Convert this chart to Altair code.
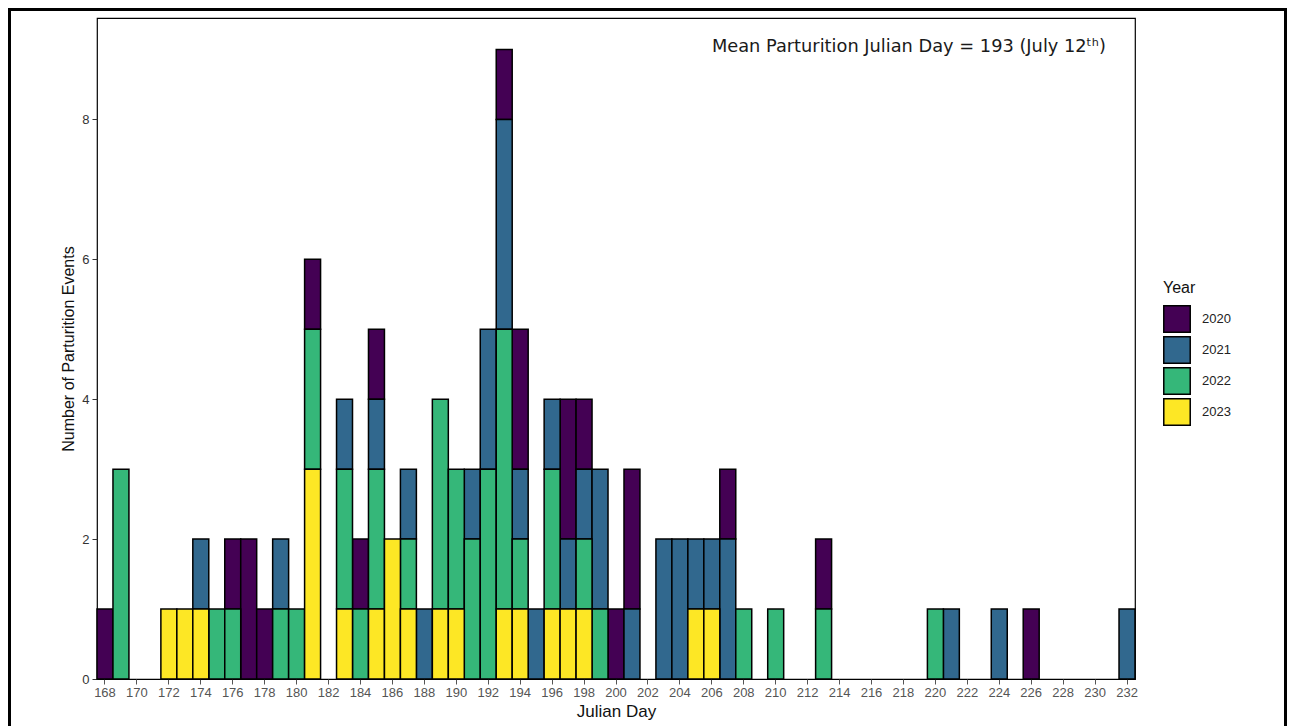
import altair as alt
import pandas as pd

# ---- data ----
days_2020 = [168, 176, 177, 178, 181, 184, 185, 193, 194, 197, 198, 200, 201, 207, 213, 226]
cnt_2020  = [1,   1,   2,   1,   1,   1,   1,   1,   2,   2,   1,   1,   2,   1,   1,   1]

days_2021 = [174, 179, 183, 185, 187, 188, 191, 192, 193, 194, 195, 196, 197, 198, 199, 201, 203, 204, 205, 206, 207, 221, 224, 232]
cnt_2021  = [1,   1,   1,   1,   1,   1,   1,   2,   3,   1,   1,   1,   1,   1,   2,   1,   2,   2,   1,   1,   2,   1,   1,   1]

days_2022 = [169, 175, 176, 179, 180, 181, 183, 184, 185, 187, 189, 190, 191, 192, 193, 194, 196, 198, 199, 208, 210, 213, 220]
cnt_2022  = [3,   1,   1,   1,   1,   2,   2,   1,   2,   1,   3,   2,   2,   3,   4,   1,   2,   1,   1,   1,   1,   1,   1]

days_2023 = [172, 173, 174, 181, 183, 185, 186, 187, 189, 190, 193, 194, 196, 197, 198, 205, 206]
cnt_2023  = [1,   1,   1,   3,   1,   1,   2,   1,   1,   1,   1,   1,   1,   1,   1,   1,   1]

years = ["2020", "2021", "2022", "2023"]
colors = ["#440154", "#31688E", "#35B779", "#FDE725"]
all_days = list(range(168, 233))
tick_days = list(range(168, 233, 2))
y_ticks = [0, 2, 4, 6, 8]
annotation = "Mean Parturition Julian Day = 193 (July 12\u1d57\u02b0)"

rows = []
for yr, ds, cs in zip(years, [days_2020, days_2021, days_2022, days_2023],
                      [cnt_2020, cnt_2021, cnt_2022, cnt_2023]):
    for d, c in zip(ds, cs):
        rows.append({"day": d, "count": c, "year": yr})
df = pd.DataFrame(rows)

bars = alt.Chart(df).mark_bar(stroke="black", strokeWidth=1.5).encode(
    x=alt.X("day:O",
            scale=alt.Scale(domain=all_days, paddingInner=0, paddingOuter=0),
            axis=alt.Axis(values=tick_days, labelAngle=0, title="Julian Day",
                          labelColor="#555555", labelFontSize=13, labelFont="Liberation Sans",
                          tickColor="#555555", tickSize=5, labelPadding=2,
                          titleFontSize=17, titleFont="Liberation Sans", titleFontWeight="normal",
                          titleColor="#111111", titlePadding=4, domain=False)),
    y=alt.Y("count:Q", stack="zero",
            scale=alt.Scale(domain=[0, 9.45], nice=False, zero=True),
            axis=alt.Axis(values=y_ticks, grid=False, title="Number of Parturition Events",
                          labelColor="#333333", labelFontSize=13, labelFont="Liberation Sans",
                          tickColor="#333333", tickSize=5, labelPadding=3,
                          titleFontSize=16, titleFont="Liberation Sans", titleFontWeight="normal",
                          titleColor="#111111", titlePadding=5, domain=False)),
    color=alt.Color("year:N", scale=alt.Scale(domain=years, range=colors),
                    legend=alt.Legend(title="Year", orient="none", legendX=1066, legendY=262,
                                      symbolType="square", symbolSize=700,
                                      symbolStrokeColor="black", symbolStrokeWidth=1.5,
                                      symbolOpacity=1,
                                      labelFontSize=13, labelFont="Liberation Sans",
                                      labelColor="#222222", labelOffset=11,
                                      titleFontSize=16, titleFont="Liberation Sans",
                                      titleFontWeight="normal", titleColor="#111111",
                                      titlePadding=9, rowPadding=-7)),
    order=alt.Order("year:N", sort="descending"),
)

note = alt.Chart(pd.DataFrame({"label": [annotation]})).mark_text(
    align="right", baseline="middle", fontSize=17.8, font="DejaVu Sans", color="#1a1a1a"
).encode(x=alt.value(1009), y=alt.value(29), text="label:N")

frame = alt.Chart(pd.DataFrame({"a": [0]})).mark_rect(
    fillOpacity=0, stroke="black", strokeWidth=3
).encode(x=alt.value(-87.5), x2=alt.value(1188.5), y=alt.value(-8.5), y2=alt.value(712))

chart = alt.layer(bars, note, frame).properties(
    width=1038, height=661, padding=0
).configure_view(stroke="black", strokeWidth=1.2)

chart.save("out.html", embed_options={"renderer": "svg", "actions": False})
